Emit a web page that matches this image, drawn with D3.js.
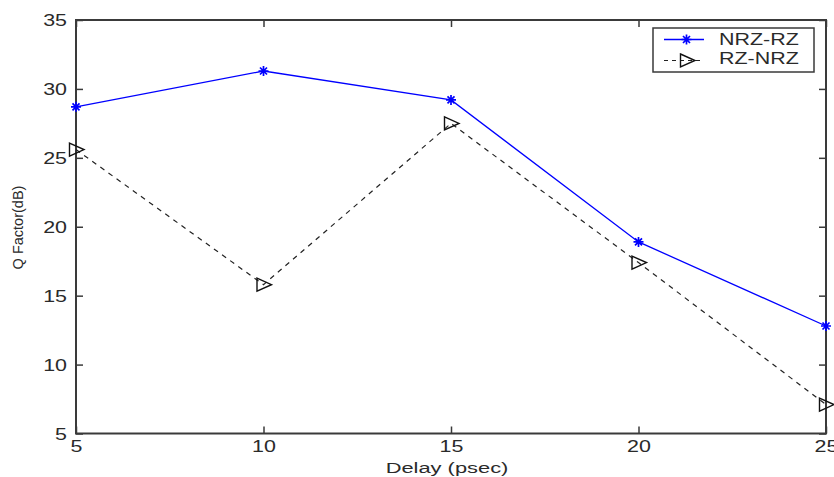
<!DOCTYPE html>
<html>
<head>
<meta charset="utf-8">
<script src="https://cdn.jsdelivr.net/npm/d3@7"></script>
<style>
  body { margin: 0; background: #fff; }
  text { font-family: "Liberation Sans", Arial, sans-serif; fill: #2a2a2a; }
</style>
</head>
<body>
<div id="chart"></div>
<script>
// data
const delays = [5, 10, 15, 20, 25];
const nrzRz = [28.7, 31.3, 29.2, 18.9, 12.8];
const rzNrz = [25.6, 15.8, 27.5, 17.4, 7.1];
const xTicks = [5, 10, 15, 20, 25];
const yTicks = [5, 10, 15, 20, 25, 30, 35];

// set dimensions
const width = 834;
const height = 477;
const plotLeft = 76, plotRight = 826, plotTop = 20, plotBottom = 433.5;
const sx = 1.3; // the original picture is stretched sideways

const svg = d3.select('#chart')
              .append('svg')
              .attr('width', width)
              .attr('height', height);

// scales
const xScale = d3.scaleLinear().domain([5, 25]).range([plotLeft, plotRight]);
const yScale = d3.scaleLinear().domain([5, 35]).range([plotBottom, plotTop]);

// box + inward ticks on all sides
const axisColor = '#3a3a3a';
const tick = 7;
const axisStyle = g => {
    g.select('.domain').remove();
    g.selectAll('line').attr('stroke', axisColor).attr('stroke-width', 1.5);
    g.selectAll('text').style('font-size', '16.5px').attr('fill', '#2a2a2a');
};

svg.append('g')
   .attr('transform', `translate(0,${plotBottom})`)
   .call(d3.axisBottom(xScale).tickValues(xTicks).tickSize(-tick).tickFormat(d3.format('d')))
   .call(axisStyle)
   .call(g => g.selectAll('text').attr('y', 19).attr('dy', 0).attr('transform', `scale(${sx},1)`));
svg.append('g')
   .attr('transform', `translate(0,${plotTop})`)
   .call(d3.axisTop(xScale).tickValues(xTicks).tickSize(-tick).tickFormat(''))
   .call(axisStyle);
svg.append('g')
   .attr('transform', `translate(${plotLeft},0)`)
   .call(d3.axisLeft(yScale).tickValues(yTicks).tickSize(-tick).tickFormat(d3.format('d')))
   .call(axisStyle)
   .call(g => g.selectAll('text').attr('x', -9 / sx).attr('dy', '0.36em').attr('transform', `scale(${sx},1)`));
svg.append('g')
   .attr('transform', `translate(${plotRight},0)`)
   .call(d3.axisRight(yScale).tickValues(yTicks).tickSize(-tick).tickFormat(''))
   .call(axisStyle);

svg.append('rect')
   .attr('x', plotLeft).attr('y', plotTop)
   .attr('width', plotRight - plotLeft).attr('height', plotBottom - plotTop)
   .attr('fill', 'none')
   .attr('stroke', axisColor)
   .attr('stroke-width', 2);

// lines
const line = vals => d3.line().x((d, i) => xScale(delays[i])).y(d => yScale(d))(vals);

svg.append('path')
   .attr('d', line(nrzRz))
   .attr('fill', 'none')
   .attr('stroke', '#0000ff')
   .attr('stroke-width', 1.3);

svg.append('path')
   .attr('d', line(rzNrz))
   .attr('fill', 'none')
   .attr('stroke', '#222')
   .attr('stroke-width', 1.2)
   .attr('stroke-dasharray', '5,5');

// markers
const star = (g, x, y) => {
    g.append('path')
     .attr('d', `M${x - 5},${y}H${x + 5}M${x},${y - 5}V${y + 5}M${x - 3.5},${y - 3.5}L${x + 3.5},${y + 3.5}M${x - 3.5},${y + 3.5}L${x + 3.5},${y - 3.5}`)
     .attr('stroke', '#0000ff')
     .attr('stroke-width', 1.7)
     .attr('fill', 'none');
};
const tri = (g, x, y) => {
    g.append('path')
     .attr('d', `M${x - 6.5},${y - 6.5}L${x + 8},${y}L${x - 6.5},${y + 6.5}Z`)
     .attr('stroke', '#111')
     .attr('stroke-width', 1.4)
     .attr('fill', 'none');
};

const marks = svg.append('g');
nrzRz.forEach((d, i) => star(marks, xScale(delays[i]), yScale(d)));
rzNrz.forEach((d, i) => tri(marks, xScale(delays[i]), yScale(d)));

// legend
const lg = svg.append('g').attr('transform', 'translate(653,28)');
lg.append('rect')
  .attr('width', 161).attr('height', 44)
  .attr('fill', '#fff')
  .attr('stroke', axisColor)
  .attr('stroke-width', 1.5);
lg.append('line').attr('x1', 11).attr('x2', 51).attr('y1', 11.5).attr('y2', 11.5)
  .attr('stroke', '#0000ff').attr('stroke-width', 1.3);
star(lg, 33.5, 11.5);
lg.append('line').attr('x1', 11).attr('x2', 51).attr('y1', 32.5).attr('y2', 32.5)
  .attr('stroke', '#222').attr('stroke-width', 1.2).attr('stroke-dasharray', '4,4');
tri(lg, 34, 32.5);
lg.append('text').attr('transform', `translate(66,17) scale(${sx},1)`).style('font-size', '16.5px').text('NRZ-RZ');
lg.append('text').attr('transform', `translate(66,36) scale(${sx},1)`).style('font-size', '16.5px').text('RZ-NRZ');

// axis titles
svg.append('text')
   .attr('transform', `translate(447,473) scale(1.42,1)`)
   .attr('text-anchor', 'middle')
   .style('font-size', '15.4px')
   .text('Delay (psec)');
svg.append('text')
   .attr('transform', `translate(23,227.5) rotate(-90)`)
   .attr('text-anchor', 'middle')
   .style('font-size', '14.5px')
   .text('Q Factor(dB)');
</script>
</body>
</html>
